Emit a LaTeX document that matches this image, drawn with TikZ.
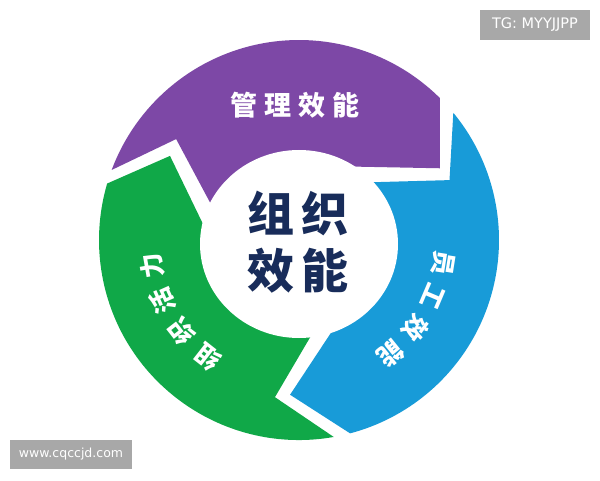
\documentclass[tikz,border=0pt]{standalone}
\usepackage{fontspec}
\newfontfamily\cjk{Noto Sans CJK SC}
\newfontfamily\wm{DejaVu Sans}
\usetikzlibrary{calc}
\definecolor{segpurple}{RGB}{125,72,166}
\definecolor{segblue}{RGB}{24,155,216}
\definecolor{seggreen}{RGB}{16,168,72}
\definecolor{navy}{RGB}{24,44,90}
\definecolor{wmgray}{RGB}{168,168,168}
\begin{document}
\begin{tikzpicture}[x=1pt,y=1pt,
  ringlabel/.style={text=white,font=\cjk\bfseries\fontsize{25}{25}\selectfont,inner sep=0pt},
  toplabel/.style={text=white,font=\cjk\bfseries\fontsize{27}{27}\selectfont,inner sep=0pt},
  centerlabel/.style={text=navy,font=\cjk\bfseries\fontsize{47}{47}\selectfont,inner sep=0pt},
  wmbox/.style={fill=wmgray,text=white,inner sep=0pt}]
\useasboundingbox (0,0) rectangle (600,480);
\fill[white] (0,0) rectangle (600,480);
\coordinate (C) at (299,240);
% purple
\coordinate (pto) at ($(C)+(159.5:200pt)$);
\coordinate (pn)  at ($(C)+(140.6:159pt)$);
\coordinate (pti) at ($(C)+(156:99pt)$);
\coordinate (pho) at ($(C)+(45.2:200pt)$);
\coordinate (pt)  at ($(C)+(27:158pt)$);
\coordinate (phi) at ($(C)+(47:100pt)$);
% blue
\coordinate (bto) at ($(C)+(39.5:200pt)$);
\coordinate (bn)  at ($(C)+(21.7:162pt)$);
\coordinate (bti) at ($(C)+(35.6:99.6pt)$);
\coordinate (bho) at ($(C)+(-75.2:200pt)$);
\coordinate (bt)  at ($(C)+(-93.3:155pt)$);
\coordinate (bhi) at ($(C)+(-69.3:96pt)$);
% green
\coordinate (gto) at ($(C)+(-80:200pt)$);
\coordinate (gn)  at ($(C)+(-98.7:159pt)$);
\coordinate (gti) at ($(C)+(-83.5:98pt)$);
\coordinate (gho) at ($(C)+(163.6:200pt)$);
\coordinate (gt)  at ($(C)+(146.9:154pt)$);
\coordinate (ghi) at ($(C)+(167:102pt)$);

\fill[segpurple] (pto) arc[start angle=159.5, end angle=45.2, radius=200pt]
  -- (pt) -- ($(pt)!1.3!(phi)$) -- (C) -- ($(pn)!1.3!(pti)$) -- (pn) -- cycle;
\fill[segblue] (bto) arc[start angle=39.5, end angle=-75.2, radius=200pt]
  -- (bt) -- ($(bt)!1.3!(bhi)$) -- (C) -- ($(bn)!1.3!(bti)$) -- (bn) -- cycle;
\fill[seggreen] (gto) arc[start angle=-80, end angle=-196.4, radius=200pt]
  -- (gt) -- ($(gt)!1.3!(ghi)$) -- (C) -- ($(gn)!1.3!(gti)$) -- (gn) -- cycle;

\fill[white] (299,236) ellipse [x radius=99pt, y radius=94pt];

\node[centerlabel] (c1) at (298,267) {组\hspace{7pt}织};
\node[centerlabel] (c2) at (298,209) {效\hspace{7pt}能};
\node[toplabel] (top) at (295,375) {管\hspace{7pt}理\hspace{7pt}效\hspace{7pt}能};

\foreach \ch/\ang [count=\i] in {员/-9, 工/-23, 效/-37, 能/-51}
  \node[ringlabel, rotate=\ang-90] (b\i) at ($(C)+(\ang:146pt)$) {\ch};
\foreach \ch/\ang [count=\i] in {组/232, 织/218, 活/204, 力/190}
  \node[ringlabel, rotate=\ang-90] (g\i) at ($(C)+(\ang:149pt)$) {\ch};

\node[wmbox, minimum width=110pt, minimum height=30pt, font=\wm\fontsize{14.5}{14.5}\selectfont] (tg) at (535,455) {TG: MYYJJPP};
\node[wmbox, minimum width=122pt, minimum height=29pt, font=\wm\fontsize{12.5}{12.5}\selectfont] (www) at (71,25.5) {www.cqccjd.com};
\end{tikzpicture}
\end{document}
